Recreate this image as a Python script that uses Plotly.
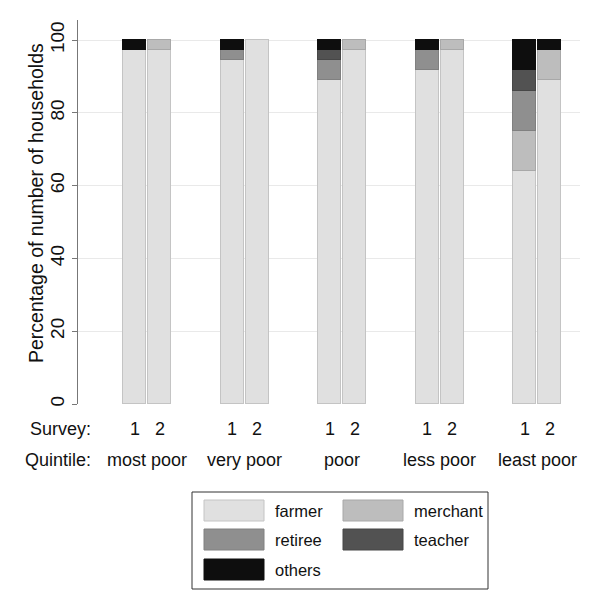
import plotly.graph_objects as go

quintiles = ["most poor", "very poor", "poor", "less poor", "least poor"]
surveys = ["1", "2"]
# values per bar, order: (q0 s1, q0 s2, q1 s1, q1 s2, ...); None = no households
farmer   = [97.2, 97.2, 94.4, 100.0, 88.9, 97.2, 91.7, 97.2, 63.9, 88.9]
merchant = [None, 2.8, None, None, None, 2.8, None, 2.8, 11.1, 8.3]
retiree  = [None, None, 2.8, None, 5.6, None, 5.6, None, 11.1, None]
teacher  = [None, None, None, None, 2.8, None, None, None, 5.6, None]
others   = [2.8, None, 2.8, None, 2.8, None, 2.8, None, 8.3, 2.8]

series = [("farmer", farmer, "#e0e0e0", "#c4c4c4"),
          ("merchant", merchant, "#bdbdbd", "#a8a8a8"),
          ("retiree", retiree, "#8f8f8f", "#808080"),
          ("teacher", teacher, "#525252", "#474747"),
          ("others", others, "#0e0e0e", "#0e0e0e")]

GROUP_STEP = 3.9
xpos = []
for g in range(len(quintiles)):
    for s in range(len(surveys)):
        xpos.append(g * GROUP_STEP + s)

FONT = "Liberation Sans, Arial, sans-serif"

fig = go.Figure()
for name, vals, fill, edge in series:
    fig.add_trace(go.Bar(x=xpos, y=vals, name=name, width=0.92,
                         marker=dict(color=fill, line=dict(color=edge, width=1)),
                         showlegend=False))

OFF = 8  # page body margin
L, R, T, B = 78 - OFF, 580 - OFF, 20 - OFF, 404 - OFF
W, H = 600 - OFF, 603 - OFF

def px(x):
    return (x - OFF - L) / (R - L)

def py(y):
    return (B - (y - OFF)) / (B - T)

annotations = []
# y-axis title
annotations.append(dict(x=px(36), y=py(203), xref="paper", yref="paper",
                        text="Percentage of number of households", textangle=-90,
                        showarrow=False, xanchor="center", yanchor="middle",
                        font=dict(size=19.5, color="#111")))
# Survey row
annotations.append(dict(x=px(93), y=py(429), xref="paper", yref="paper", text="Survey:",
                        showarrow=False, xanchor="right", yanchor="middle",
                        font=dict(size=18, color="#111")))
for i, xv in enumerate(xpos):
    annotations.append(dict(x=xv, y=py(429), xref="x", yref="paper", text=surveys[i % 2],
                            showarrow=False, xanchor="center", yanchor="middle",
                            font=dict(size=18, color="#111")))
annotations.append(dict(x=px(93), y=py(460), xref="paper", yref="paper", text="Quintile:",
                        showarrow=False, xanchor="right", yanchor="middle",
                        font=dict(size=18, color="#111")))
for g, q in enumerate(quintiles):
    annotations.append(dict(x=g * GROUP_STEP + 0.5, y=py(460), xref="x", yref="paper", text=q,
                            showarrow=False, xanchor="center", yanchor="middle",
                            font=dict(size=18, color="#111")))

shapes = []
# legend box
shapes.append(dict(type="rect", xref="paper", yref="paper",
                   x0=px(192), x1=px(488), y0=py(492), y1=py(589),
                   line=dict(color="#333", width=1), fillcolor="white"))
legend_pos = [(204, 500), (343, 500), (204, 529), (343, 529), (204, 559)]
for (name, vals, fill, edge), (lx, ly) in zip(series, legend_pos):
    shapes.append(dict(type="rect", xref="paper", yref="paper",
                       x0=px(lx), x1=px(lx + 60), y0=py(ly), y1=py(ly + 21),
                       line=dict(color=edge, width=1), fillcolor=fill))
    annotations.append(dict(x=px(lx + 69), y=py(ly + 11), xref="paper", yref="paper", text=name,
                            showarrow=False, xanchor="left", yanchor="middle",
                            font=dict(size=16.5, color="#111")))

fig.update_layout(
    barmode="stack",
    width=W, height=H,
    margin=dict(l=L, r=W - R, t=T, b=H - B, pad=0, autoexpand=False),
    paper_bgcolor="white", plot_bgcolor="white",
    font=dict(family=FONT, color="#111"),
    annotations=annotations,
    shapes=shapes,
    bargap=0,
)
fig.update_xaxes(range=[-2.28, 17.82], showticklabels=False, showgrid=False,
                 zeroline=False, showline=False, ticks="", automargin=False)
fig.update_yaxes(range=[0, 105.5], tickvals=[0, 20, 40, 60, 80, 100], tickangle=-90,
                 showgrid=True, gridcolor="#e9e9e9", gridwidth=1, zeroline=False,
                 showline=True, linecolor="#777", linewidth=1, ticks="outside",
                 ticklen=5, tickcolor="#777", tickfont=dict(size=19, color="#111"),
                 automargin=False)

fig.write_html("out.html")
